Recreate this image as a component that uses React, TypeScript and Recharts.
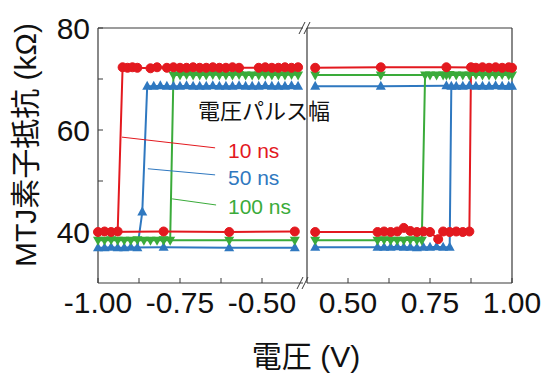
import React from "react";
import { LineChart, Line, XAxis, YAxis, ReferenceLine } from "recharts";

type Pt = [number, number];

// [voltage (V), resistance (kΩ)] in sweep order
const red10Neg: Pt[] = [
  [-0.4, 40.1], [-0.6, 40.0], [-0.8, 40.1], [-1.0, 40.0], [-0.98, 40.1], [-0.96, 40.0], [-0.94, 40.1],
  [-0.925, 72.3], [-0.91, 72.2], [-0.895, 72.3], [-0.88, 72.2], [-0.84, 72.1], [-0.82, 72.3],
  [-0.79, 72.2], [-0.77, 72.3], [-0.75, 72.2], [-0.73, 72.2], [-0.71, 72.3], [-0.69, 72.2],
  [-0.67, 72.2], [-0.65, 72.3], [-0.63, 72.2], [-0.61, 72.2], [-0.59, 72.3], [-0.57, 72.2],
  [-0.51, 72.2], [-0.49, 72.3], [-0.47, 72.2], [-0.45, 72.2], [-0.43, 72.3], [-0.41, 72.2], [-0.39, 72.3],
];
const blue50Neg: Pt[] = [
  [-0.4, 36.9], [-0.6, 36.9], [-0.8, 37.0], [-1.0, 36.9], [-0.98, 36.9], [-0.96, 37.0], [-0.94, 36.9],
  [-0.92, 36.9], [-0.9, 37.0], [-0.88, 36.9], [-0.865, 43.9],
  [-0.85, 68.6], [-0.83, 68.6], [-0.81, 68.7], [-0.79, 68.6], [-0.77, 68.6], [-0.75, 68.6],
  [-0.73, 68.7], [-0.71, 68.6], [-0.69, 68.6], [-0.67, 68.6], [-0.65, 68.7], [-0.63, 68.6],
  [-0.61, 68.6], [-0.59, 68.6], [-0.57, 68.7], [-0.55, 68.6], [-0.53, 68.6], [-0.51, 68.6],
  [-0.49, 68.7], [-0.47, 68.6], [-0.45, 68.6], [-0.43, 68.6], [-0.41, 68.7], [-0.39, 68.6],
];
const green100Neg: Pt[] = [
  [-0.4, 38.4], [-0.6, 38.4], [-0.8, 38.4], [-1.0, 38.4], [-0.98, 38.4], [-0.96, 38.5], [-0.94, 38.4],
  [-0.92, 38.4], [-0.9, 38.4], [-0.88, 38.5], [-0.86, 38.4], [-0.84, 38.4], [-0.82, 38.4], [-0.8, 38.5],
  [-0.78, 38.4],
  [-0.77, 70.8], [-0.75, 70.8], [-0.73, 70.9], [-0.71, 70.8], [-0.69, 70.8], [-0.67, 70.8],
  [-0.65, 70.9], [-0.63, 70.8], [-0.61, 70.8], [-0.59, 70.8], [-0.57, 70.9], [-0.55, 70.8],
  [-0.53, 70.8], [-0.51, 70.8], [-0.49, 70.9], [-0.47, 70.8], [-0.45, 70.8], [-0.43, 70.8], [-0.41, 70.9], [-0.39, 70.8],
];

const red10Pos: Pt[] = [
  [0.4, 72.2], [0.6, 72.3], [0.8, 72.3], [1.0, 72.2],
  [0.99, 72.3], [0.97, 72.2], [0.95, 72.3], [0.93, 72.2], [0.91, 72.3], [0.89, 72.2], [0.875, 72.3],
  [0.87, 40.1], [0.85, 40.0], [0.83, 40.1], [0.81, 40.0], [0.79, 40.1], [0.775, 38.6],
  [0.75, 40.0], [0.73, 40.1], [0.71, 40.0], [0.69, 40.2], [0.67, 40.8], [0.65, 40.1],
  [0.63, 40.0], [0.61, 40.1], [0.59, 40.0], [0.4, 40.0],
];
const blue50Pos: Pt[] = [
  [0.4, 68.6], [0.6, 68.6], [0.8, 68.7], [1.0, 68.6],
  [0.99, 68.6], [0.97, 68.6], [0.95, 68.7], [0.93, 68.6], [0.91, 68.6], [0.89, 68.6],
  [0.87, 68.7], [0.85, 68.6], [0.83, 68.6], [0.815, 68.6],
  [0.81, 37.0], [0.79, 37.0], [0.77, 37.1], [0.75, 37.0], [0.73, 37.0], [0.71, 36.9],
  [0.69, 37.0], [0.67, 37.0], [0.65, 37.1], [0.63, 37.0], [0.61, 37.0], [0.59, 37.0], [0.4, 37.0],
];
const green100Pos: Pt[] = [
  [0.4, 70.8], [0.6, 70.8], [0.8, 70.8], [1.0, 70.8],
  [0.99, 70.8], [0.97, 70.9], [0.95, 70.8], [0.93, 70.8], [0.91, 70.8], [0.89, 70.9],
  [0.87, 70.8], [0.85, 70.8], [0.83, 70.8], [0.81, 70.9], [0.79, 70.8], [0.77, 70.8],
  [0.75, 70.8], [0.735, 70.8],
  [0.725, 38.4], [0.71, 38.4], [0.69, 38.5], [0.67, 38.4], [0.65, 38.4], [0.63, 38.4],
  [0.61, 38.5], [0.59, 38.4], [0.4, 38.4],
];

const legendNames = ["10 ns", "50 ns", "100 ns"];
const legendTitle = "電圧パルス幅";

const Y_DOMAIN = [30, 80];
const Y_TICKS = [40, 50, 60, 70, 80];
const NEG_DOMAIN = [-1, -0.375];
const NEG_TICKS = [-1, -0.875, -0.75, -0.625, -0.5];
const POS_DOMAIN = [0.375, 1];
const POS_TICKS = [0.5, 0.625, 0.75, 0.875, 1];

const RED = "#e3191f";
const BLUE = "#2f78c0";
const GREEN = "#3aab3a";
const AXIS = "#3a3a3a";
const FONT = "'Liberation Sans', Arial, 'Noto Sans CJK JP', sans-serif";

const rows = (pts: Pt[]) => pts.map(([v, r]) => ({ v, r }));
const xLabel = (v: number) => (Math.abs(v * 4 - Math.round(v * 4)) < 1e-9 ? v.toFixed(2) : "");
const yLabel = (v: number) => (v % 20 === 0 ? String(v) : "");
const blank = () => "";

const tickStyle = { fontSize: 30, fill: "#111", fontFamily: FONT };
const axisLine = { stroke: AXIS, strokeWidth: 1.2 };
const tickLine = { stroke: AXIS, strokeWidth: 1 };

const triangle = (color: string, up: boolean) => (p: any) => {
  const { cx, cy, index } = p;
  if (cx == null || cy == null) return <g key={`t${index}`} />;
  const s = up ? 1 : -1;
  const pts = `${cx},${cy - 5.5 * s} ${cx + 5},${cy + 3.5 * s} ${cx - 5},${cy + 3.5 * s}`;
  return <polygon key={`t${index}`} points={pts} fill={color} stroke="none" />;
};

const series = (blue: Pt[], green: Pt[], red: Pt[]) => [
  <Line key="b" data={rows(blue)} dataKey="r" stroke={BLUE} strokeWidth={2}
    dot={triangle(BLUE, true)} isAnimationActive={false} />,
  <Line key="g" data={rows(green)} dataKey="r" stroke={GREEN} strokeWidth={2}
    dot={triangle(GREEN, false)} isAnimationActive={false} />,
  <Line key="r" data={rows(red)} dataKey="r" stroke={RED} strokeWidth={2}
    dot={{ r: 4.5, fill: RED, stroke: RED, strokeWidth: 1 }} isAnimationActive={false} />,
];

export default function App() {
  return (
    <div style={{ position: "absolute", left: 0, top: 0, width: 550, height: 375, background: "#fff" }}>
      {/* negative voltage panel */}
      <div style={{ position: "absolute", left: 0, top: 0 }}>
        <LineChart width={310} height={375} margin={{ top: 27, right: 7, bottom: 0, left: 0 }}>
          <XAxis dataKey="v" type="number" domain={NEG_DOMAIN} ticks={NEG_TICKS}
            height={92} tickSize={-5} tickMargin={14} tickFormatter={xLabel} tick={tickStyle}
            axisLine={axisLine} tickLine={tickLine} interval={0} />
          <XAxis xAxisId="top" orientation="top" dataKey="v" type="number" domain={NEG_DOMAIN}
            ticks={NEG_TICKS} height={1} tickSize={-6} tickFormatter={blank}
            axisLine={axisLine} tickLine={tickLine} interval={0} />
          <YAxis domain={Y_DOMAIN} ticks={Y_TICKS} width={98} tickSize={-5}
            tickMargin={13} tickFormatter={yLabel} tick={tickStyle}
            axisLine={axisLine} tickLine={tickLine} interval={0} />
          {series(blue50Neg, green100Neg, red10Neg)}
          <ReferenceLine segment={[{ x: -0.927, y: 58.6 }, { x: -0.643, y: 56.5 }]}
            stroke={RED} strokeWidth={1} ifOverflow="visible" />
          <ReferenceLine segment={[{ x: -0.848, y: 52.4 }, { x: -0.643, y: 51.2 }]}
            stroke={BLUE} strokeWidth={1} ifOverflow="visible" />
          <ReferenceLine segment={[{ x: -0.774, y: 46.5 }, { x: -0.64, y: 45.3 }]}
            stroke={GREEN} strokeWidth={1} ifOverflow="visible" />
        </LineChart>
      </div>

      {/* positive voltage panel */}
      <div style={{ position: "absolute", left: 300, top: 0 }}>
        <LineChart width={250} height={375} margin={{ top: 27, right: 37, bottom: 0, left: 6 }}>
          <XAxis dataKey="v" type="number" domain={POS_DOMAIN} ticks={POS_TICKS}
            height={92} tickSize={-5} tickMargin={14} tickFormatter={xLabel} tick={tickStyle}
            axisLine={axisLine} tickLine={tickLine} interval={0} />
          <XAxis xAxisId="top" orientation="top" dataKey="v" type="number" domain={POS_DOMAIN}
            ticks={POS_TICKS} height={1} tickSize={-6} tickFormatter={blank}
            axisLine={axisLine} tickLine={tickLine} interval={0} />
          <YAxis domain={Y_DOMAIN} width={1} tickLine={false} tickFormatter={blank}
            axisLine={axisLine} />
          <YAxis yAxisId="r" orientation="right" domain={Y_DOMAIN} ticks={Y_TICKS} width={1}
            tickSize={-6} tickFormatter={blank} axisLine={axisLine} tickLine={tickLine} interval={0} />
          {series(blue50Pos, green100Pos, red10Pos)}
        </LineChart>
      </div>

      <svg width={550} height={375} style={{ position: "absolute", left: 0, top: 0, pointerEvents: "none" }}
        fontFamily={FONT}>
        {/* axis break marks */}
        <g stroke={AXIS} strokeWidth={1}>
          <line x1={299} y1={34} x2={305} y2={22} />
          <line x1={304} y1={34} x2={310} y2={22} />
          <line x1={297} y1={289} x2={303} y2={277} />
          <line x1={302} y1={289} x2={308} y2={277} />
        </g>
        <text x={25} y={145} transform="rotate(-90 25 145)" textAnchor="middle" dominantBaseline="central"
          fontSize={30} fill="#111">MTJ素子抵抗 (kΩ)</text>
        <text x={306} y={356} textAnchor="middle" dominantBaseline="central" fontSize={30} fill="#111">
          電圧 (V)
        </text>
        <text x={198} y={111} dominantBaseline="central" fontSize={22} fill="#111">{legendTitle}</text>
        <text x={228} y={150} dominantBaseline="central" fontSize={21} fill={RED}>{legendNames[0]}</text>
        <text x={228} y={177} dominantBaseline="central" fontSize={21} fill={BLUE}>{legendNames[1]}</text>
        <text x={228} y={206} dominantBaseline="central" fontSize={21} fill={GREEN}>{legendNames[2]}</text>
      </svg>
    </div>
  );
}
